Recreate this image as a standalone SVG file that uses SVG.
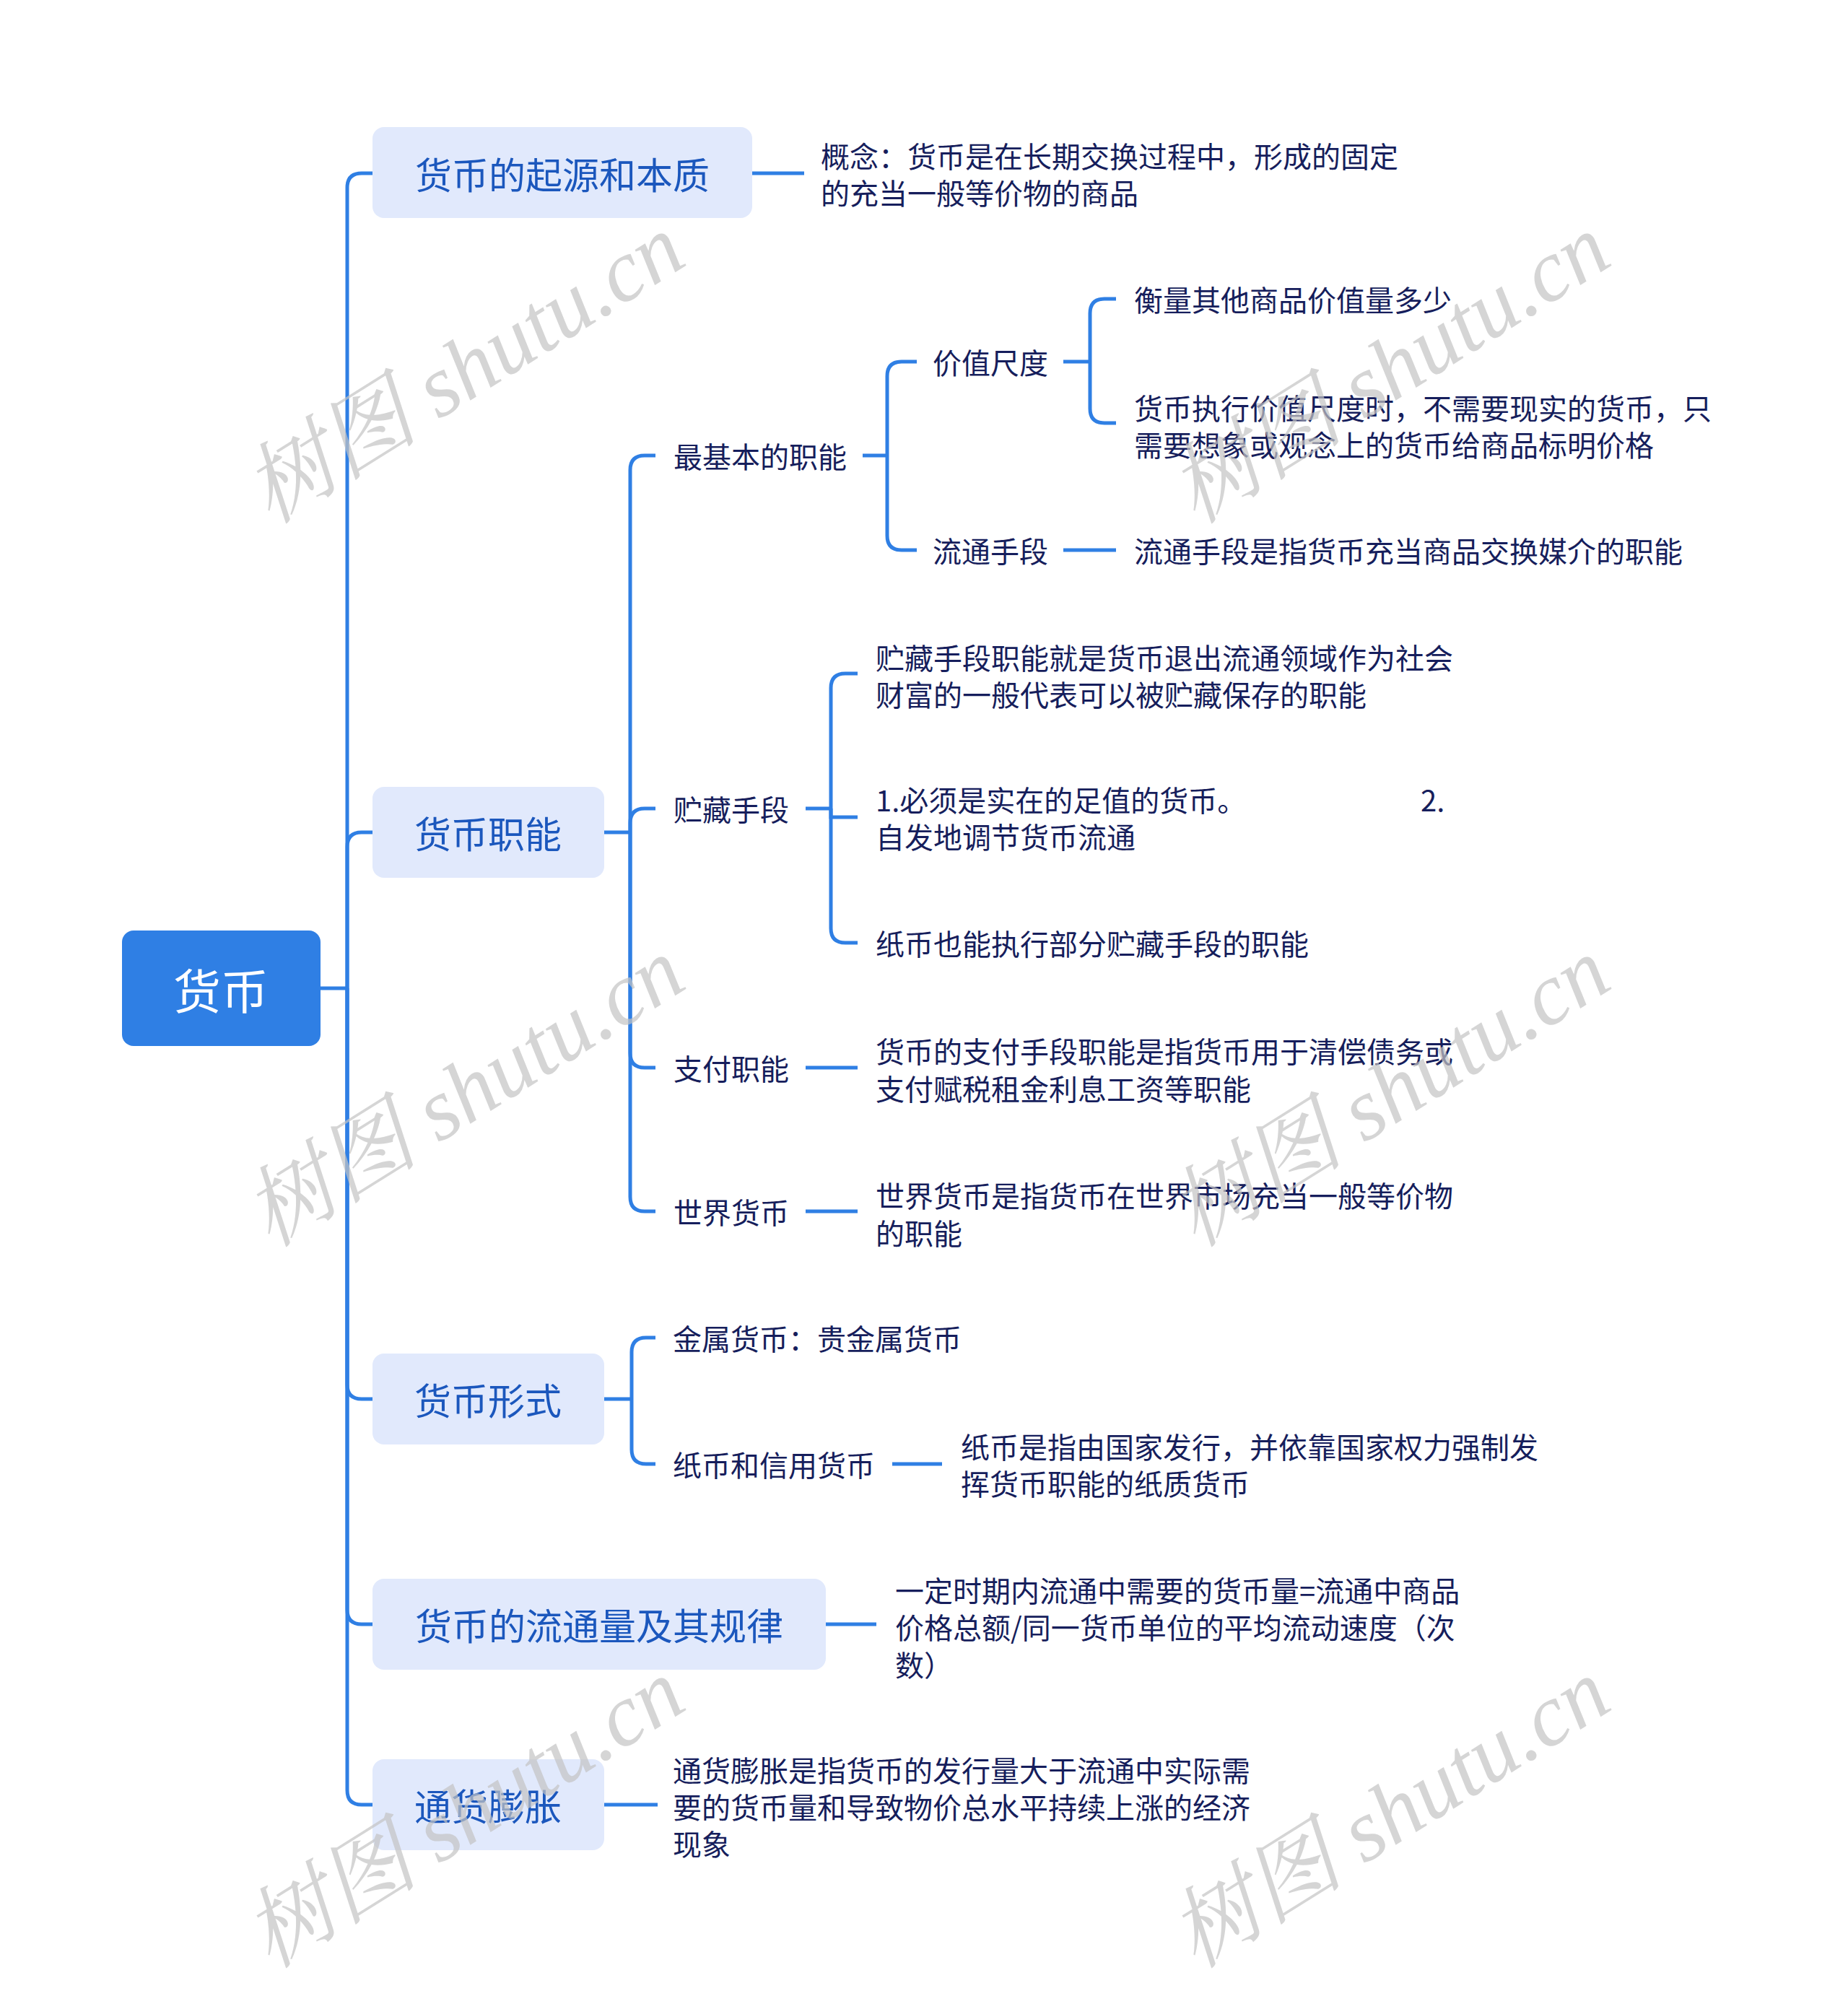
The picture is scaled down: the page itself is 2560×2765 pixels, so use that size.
<svg xmlns="http://www.w3.org/2000/svg" width="2560" height="2765" viewBox="0 0 2560 2765">
<style>
.root rect{fill:#2f7fe4}
.root text{fill:#ffffff;font-size:66px}
.l1 rect{fill:#e1e9fc}
.l1 text{fill:#1b57bd;font-size:51px}
.t{fill:#161e5c;font-size:40px}
text{font-family:"Noto Sans CJK SC","Noto Sans",sans-serif;dominant-baseline:central}
.l1 text,.root text{text-anchor:middle}
#connectors path{fill:none;stroke:#2f7fe4;stroke-width:5;stroke-linecap:butt}
.wm{font-family:"Liberation Serif","Noto Serif CJK SC","Noto Sans CJK SC",serif;font-style:italic;font-size:122px;fill:#c4c4c4;opacity:0.7;text-anchor:middle;dominant-baseline:central}
</style>
<rect width="2560" height="2765" fill="#ffffff"/>
<g id="connectors">
<path d="M444 1369 H481"/>
<path d="M481 1369 V260 Q481 240 501 240 H516"/>
<path d="M481 1369 V1173 Q481 1153 501 1153 H516"/>
<path d="M481 1369 V1918 Q481 1938 501 1938 H516"/>
<path d="M481 1369 V2230 Q481 2250 501 2250 H516"/>
<path d="M481 1369 V2480 Q481 2500 501 2500 H516"/>
<path d="M1042 240 H1114"/>
<path d="M837 1153 H873"/>
<path d="M873 1153 V651 Q873 631 893 631 H908"/>
<path d="M873 1153 V1140 Q873 1120 893 1120 H908"/>
<path d="M873 1153 V1459 Q873 1479 893 1479 H908"/>
<path d="M873 1153 V1658 Q873 1678 893 1678 H908"/>
<path d="M1195 631 H1229"/>
<path d="M1229 631 V521 Q1229 501 1249 501 H1270"/>
<path d="M1229 631 V742 Q1229 762 1249 762 H1270"/>
<path d="M1473 501 H1510"/>
<path d="M1510 501 V434 Q1510 414 1530 414 H1546"/>
<path d="M1510 501 V566 Q1510 586 1530 586 H1546"/>
<path d="M1473 762 H1546"/>
<path d="M1116 1120 H1151"/>
<path d="M1151 1120 V953 Q1151 933 1171 933 H1188"/>
<path d="M1151 1120 V1132 H1188"/>
<path d="M1151 1120 V1286 Q1151 1306 1171 1306 H1188"/>
<path d="M1116 1479 H1188"/>
<path d="M1116 1678 H1188"/>
<path d="M837 1938 H875"/>
<path d="M875 1938 V1873 Q875 1853 895 1853 H908"/>
<path d="M875 1938 V2008 Q875 2028 895 2028 H908"/>
<path d="M1236 2028 H1305"/>
<path d="M1144 2250 H1214"/>
<path d="M837 2500 H911"/>
</g>
<g id="n-root" class="root"><rect x="169" y="1289" width="275" height="160" rx="16"/><text x="306" y="1369">货币</text></g>
<g id="n-origin" class="l1"><rect x="516" y="176" width="526" height="126" rx="16"/><text x="779" y="240">货币的起源和本质</text></g>
<g id="n-origin-c"><text class="t" x="1137"><tspan x="1137" y="215">概念：货币是在长期交换过程中，形成的固定</tspan><tspan x="1137" y="266">的充当一般等价物的商品</tspan></text></g>
<g id="n-func" class="l1"><rect x="516" y="1090" width="321" height="126" rx="16"/><text x="676" y="1153">货币职能</text></g>
<g id="n-basic"><text class="t" x="933" y="631">最基本的职能</text></g>
<g id="n-measure"><text class="t" x="1292" y="501">价值尺度</text></g>
<g id="n-measure-1"><text class="t" x="1571" y="414">衡量其他商品价值量多少</text></g>
<g id="n-measure-2"><text class="t"><tspan x="1571" y="564">货币执行价值尺度时，不需要现实的货币，只</tspan><tspan x="1571" y="615">需要想象或观念上的货币给商品标明价格</tspan></text></g>
<g id="n-circ"><text class="t" x="1292" y="762">流通手段</text></g>
<g id="n-circ-1"><text class="t" x="1571" y="762">流通手段是指货币充当商品交换媒介的职能</text></g>
<g id="n-store"><text class="t" x="933" y="1120">贮藏手段</text></g>
<g id="n-store-1"><text class="t"><tspan x="1213" y="910">贮藏手段职能就是货币退出流通领域作为社会</tspan><tspan x="1213" y="961">财富的一般代表可以被贮藏保存的职能</tspan></text></g>
<g id="n-store-2"><text class="t"><tspan x="1213" y="1107">1.必须是实在的足值的货币。</tspan><tspan x="1968" y="1107">2.</tspan><tspan x="1213" y="1158">自发地调节货币流通</tspan></text></g>
<g id="n-store-3"><text class="t" x="1213" y="1306">纸币也能执行部分贮藏手段的职能</text></g>
<g id="n-pay"><text class="t" x="933" y="1479">支付职能</text></g>
<g id="n-pay-1"><text class="t"><tspan x="1213" y="1455">货币的支付手段职能是指货币用于清偿债务或</tspan><tspan x="1213" y="1507">支付赋税租金利息工资等职能</tspan></text></g>
<g id="n-world"><text class="t" x="933" y="1678">世界货币</text></g>
<g id="n-world-1"><text class="t"><tspan x="1213" y="1655">世界货币是指货币在世界市场充当一般等价物</tspan><tspan x="1213" y="1707">的职能</tspan></text></g>
<g id="n-form" class="l1"><rect x="516" y="1875" width="321" height="126" rx="16"/><text x="676" y="1938">货币形式</text></g>
<g id="n-metal"><text class="t" x="932" y="1853">金属货币：贵金属货币</text></g>
<g id="n-paper"><text class="t" x="932" y="2028">纸币和信用货币</text></g>
<g id="n-paper-1"><text class="t"><tspan x="1331" y="2003">纸币是指由国家发行，并依靠国家权力强制发</tspan><tspan x="1331" y="2054">挥货币职能的纸质货币</tspan></text></g>
<g id="n-amount" class="l1"><rect x="516" y="2187" width="628" height="126" rx="16"/><text x="830" y="2250">货币的流通量及其规律</text></g>
<g id="n-amount-1"><text class="t"><tspan x="1240" y="2202">一定时期内流通中需要的货币量=流通中商品</tspan><tspan x="1240" y="2253">价格总额/同一货币单位的平均流动速度（次</tspan><tspan x="1240" y="2305">数）</tspan></text></g>
<g id="n-infl" class="l1"><rect x="516" y="2437" width="321" height="126" rx="16"/><text x="676" y="2500">通货膨胀</text></g>
<g id="n-infl-1"><text class="t"><tspan x="932" y="2451">通货膨胀是指货币的发行量大于流通中实际需</tspan><tspan x="932" y="2502">要的货币量和导致物价总水平持续上涨的经济</tspan><tspan x="932" y="2553">现象</tspan></text></g>
<g id="watermarks">
<text class="wm" transform="translate(643 511) rotate(-32)">树图 shutu.cn</text>
<text class="wm" transform="translate(1925 511) rotate(-32)">树图 shutu.cn</text>
<text class="wm" transform="translate(643 1513) rotate(-32)">树图 shutu.cn</text>
<text class="wm" transform="translate(1925 1513) rotate(-32)">树图 shutu.cn</text>
<text class="wm" transform="translate(643 2512) rotate(-32)">树图 shutu.cn</text>
<text class="wm" transform="translate(1925 2512) rotate(-32)">树图 shutu.cn</text>
</g>
</svg>
